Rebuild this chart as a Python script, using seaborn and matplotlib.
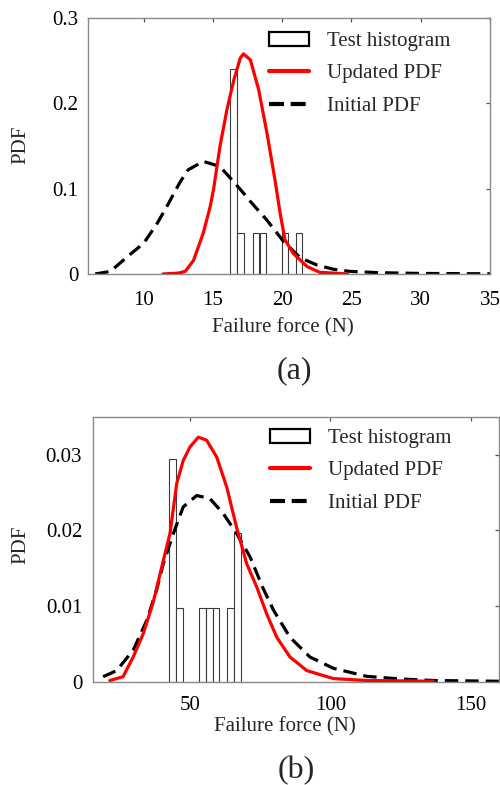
import matplotlib
matplotlib.use("Agg")
import matplotlib.pyplot as plt
from matplotlib.patches import Patch
from matplotlib.lines import Line2D
import seaborn as sns
import pandas as pd

# ---- panel (a): failure force, small specimens ----
a_bar_centers = [16.49, 17.0, 18.12, 18.6, 20.22, 21.22]
a_bar_heights = [0.24, 0.048, 0.048, 0.048, 0.048, 0.048]

a_upd_x = [11.4, 12.5, 13.0, 13.6, 14.3, 14.8, 15.05, 15.5, 16.0, 16.5, 16.97,
           17.2, 17.7, 18.3, 18.9, 19.5, 19.85, 20.2, 20.8, 21.8, 22.7, 24.7]
a_upd_y = [0.0, 0.001, 0.003, 0.016, 0.048, 0.079, 0.1, 0.149, 0.192, 0.227, 0.253,
           0.258, 0.251, 0.216, 0.165, 0.108, 0.071, 0.040, 0.024, 0.0086, 0.002, 0.0]

a_init_x = [6.5, 7.6, 8.8, 10.0, 11.0, 11.7, 12.6, 13.2, 14.3, 15.5, 16.5, 17.3,
            17.7, 18.9, 20.1, 21.3, 22.5, 23.7, 24.9, 27.0, 30.0, 35.0]
a_init_y = [0.0, 0.003, 0.02, 0.036, 0.06, 0.08, 0.107, 0.122, 0.132, 0.126, 0.108,
            0.093, 0.085, 0.063, 0.038, 0.019, 0.0105, 0.0055, 0.003, 0.0015, 0.0006, 0.0002]

a_xticks = [10, 15, 20, 25, 30, 35]
a_yticks = [0, 0.1, 0.2, 0.3]
a_yticklabels = ["0", "0.1", "0.2", "0.3"]

# ---- panel (b): failure force, large specimens ----
b_bar_centers = [43.8, 46.3, 54.5, 56.9, 59.3, 64.5, 66.9]
b_bar_heights = [0.0294, 0.0098, 0.0098, 0.0098, 0.0098, 0.0098, 0.0196]

b_upd_x = [21.5, 26.2, 29.8, 33.4, 36.9, 41.7, 42.9, 45.3, 47.6, 50.0, 53.0, 55.9,
           59.5, 63.1, 66.6, 70.2, 73.8, 77.3, 80.9, 85.6, 91.6, 101.1, 112.9, 136.6]
b_upd_y = [0.0002, 0.0007, 0.0033, 0.0064, 0.0105, 0.0178, 0.0196, 0.0262, 0.0292,
           0.031, 0.0323, 0.0319, 0.0297, 0.0257, 0.0204, 0.0156, 0.0125, 0.009,
           0.0059, 0.0033, 0.0015, 0.00045, 0.0002, 0.0001]

b_init_x = [19.1, 23.9, 29.8, 34.6, 38.1, 40.5, 44.1, 47.6, 52.4, 57.1, 61.9, 66.6,
            71.4, 76.1, 79.7, 85.6, 92.7, 101.1, 112.9, 124.8, 136.6, 160.0]
b_init_y = [0.0007, 0.0015, 0.0042, 0.0081, 0.0121, 0.0156, 0.0196, 0.0231, 0.0246,
            0.0242, 0.0222, 0.0196, 0.0165, 0.0123, 0.0095, 0.0059, 0.0033, 0.0018,
            0.00075, 0.0004, 0.0002, 0.0001]

b_xticks = [50, 100, 150]
b_yticks = [0, 0.01, 0.02, 0.03]
b_yticklabels = ["0", "0.01", "0.02", "0.03"]

legend_labels = ["Test histogram", "Updated PDF", "Initial PDF"]
x_label = "Failure force (N)"
y_label = "PDF"

sns.set_theme(style="white")
plt.rcParams["font.family"] = ["Liberation Serif", "DejaVu Serif"]

SPINE = "#8a8a8a"
LW = 2.3
DASH = (4.2, 2.2)

fig = plt.figure(figsize=(5.0, 7.85), dpi=100)
ax_a = fig.add_axes([0.1766, 0.651, 0.980 - 0.1766, 0.977 - 0.651])
ax_b = fig.add_axes([0.1866, 0.1312, 0.998 - 0.1866, 0.4692 - 0.1312])


def draw_panel(ax, centers, heights, width, ux, uy, ix, iy):
    ax.bar(centers, heights, width=width, facecolor="white",
           edgecolor="#3a3a3a", linewidth=0.8, zorder=1)
    sns.lineplot(data=pd.DataFrame({"x": ix, "y": iy}), x="x", y="y", ax=ax,
                 color="black", linewidth=LW, sort=False,
                 estimator=None, zorder=2).lines[-1].set_dashes(DASH)
    sns.lineplot(data=pd.DataFrame({"x": ux, "y": uy}), x="x", y="y", ax=ax,
                 color="#ff0000", linewidth=LW, sort=False, estimator=None,
                 zorder=3)


def style_axes(ax, xlim, ylim, xticks, yticks, yticklabels, xpad, ypad):
    ax.set_xlim(*xlim)
    ax.set_ylim(*ylim)
    ax.set_xticks(xticks)
    ax.set_xticklabels([str(t) for t in xticks])
    ax.set_yticks(yticks)
    ax.set_yticklabels(yticklabels)
    for s in ax.spines.values():
        s.set_visible(True)
        s.set_color(SPINE)
        s.set_linewidth(1.0)
    ax.tick_params(direction="in", length=3, width=0.9, color="#555555",
                   top=True, right=True, labelsize=15, labelcolor="black")
    ax.tick_params(axis="x", pad=xpad)
    ax.tick_params(axis="y", pad=ypad)
    ax.set_xlabel("")
    ax.set_ylabel("")


draw_panel(ax_a, a_bar_centers, a_bar_heights, 0.46, a_upd_x, a_upd_y, a_init_x, a_init_y)
style_axes(ax_a, (6, 35), (0, 0.3), a_xticks, a_yticks, a_yticklabels, 12, 7)

draw_panel(ax_b, b_bar_centers, b_bar_heights, 2.35, b_upd_x, b_upd_y, b_init_x, b_init_y)
style_axes(ax_b, (15.6, 160), (0, 0.035), b_xticks, b_yticks, b_yticklabels, 10, 8)

handles = [
    Patch(facecolor="white", edgecolor="black", linewidth=1.6),
    Line2D([], [], color="#ff0000", linewidth=3.0),
    Line2D([], [], color="black", linewidth=3.0, dashes=(3.6, 1.6)),
]

for ax, anchor in ((ax_a, (269, 32)), (ax_b, (270, 429))):
    fig.legend(handles, legend_labels, loc="upper left",
               bbox_to_anchor=(anchor[0] / 500, 1 - anchor[1] / 785),
               frameon=False, fontsize=15, borderpad=0, borderaxespad=0,
               handlelength=1.9, handleheight=0.65, handletextpad=0.9,
               labelspacing=0.62)

# axis titles and panel tags
fig.text(283 / 500, 1 - 328 / 785, x_label, ha="center", va="center", fontsize=15)
fig.text(285 / 500, 1 - 727 / 785, x_label, ha="center", va="center", fontsize=15)
fig.text(21 / 500, 1 - 145 / 785, y_label, ha="center", va="center", rotation=90, fontsize=15)
fig.text(21 / 500, 1 - 545 / 785, y_label, ha="center", va="center", rotation=90, fontsize=15)
fig.text(294 / 500, 1 - 371 / 785, "(a)", ha="center", va="center", fontsize=23)
fig.text(296 / 500, 1 - 771 / 785, "(b)", ha="center", va="center", fontsize=23)

fig.savefig("out.png", dpi=100, facecolor="white")
